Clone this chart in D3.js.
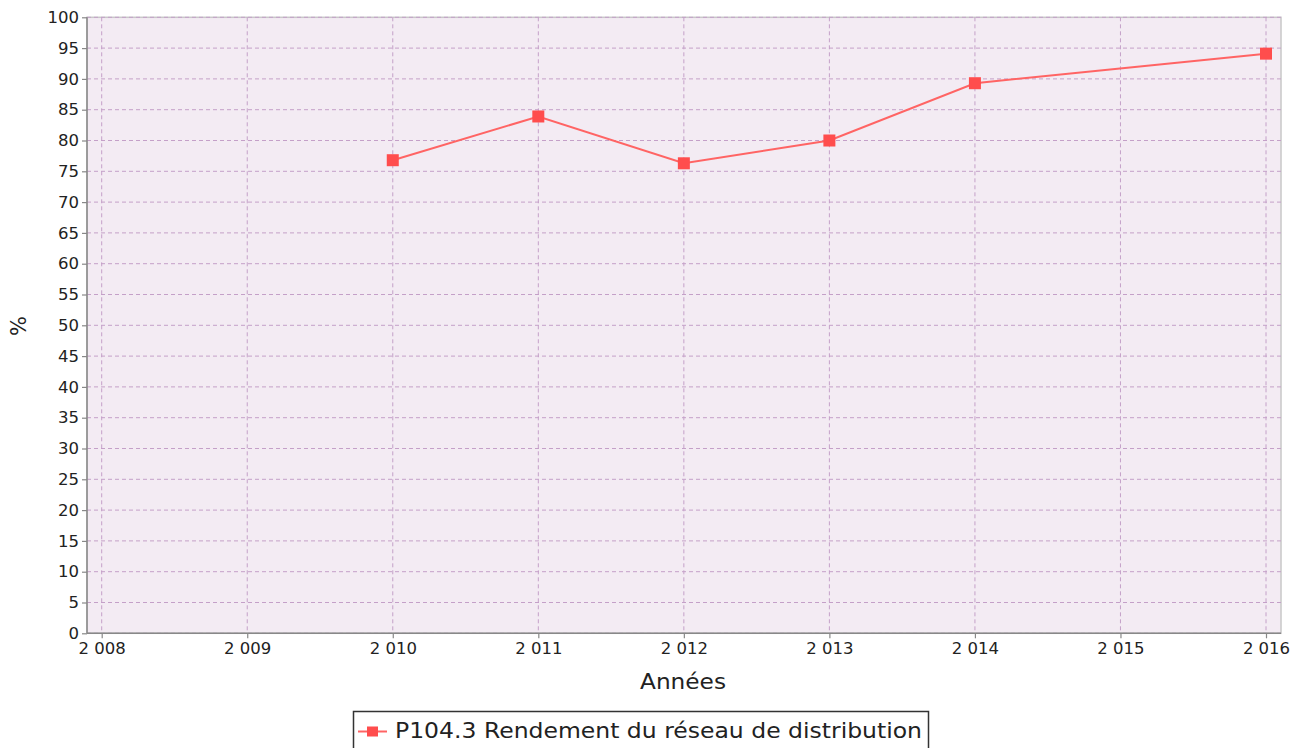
<!DOCTYPE html>
<html><head><meta charset="utf-8">
<script src="https://cdn.jsdelivr.net/npm/d3@7/dist/d3.min.js"></script>
<style>body{margin:0;background:#fff;}svg{display:block;font-family:"DejaVu Sans",sans-serif;}</style>
</head><body><svg id="c" width="1306" height="748"></svg>
<script>
const years = [2010, 2011, 2012, 2013, 2014, 2016];
const values = [76.8, 83.9, 76.3, 80.0, 89.3, 94.1];
const xTicks = [2008, 2009, 2010, 2011, 2012, 2013, 2014, 2015, 2016];
const yTicks = d3.range(0, 101, 5);
const seriesName = "P104.3 Rendement du réseau de distribution";
const xTitle = "Années";
const yTitle = "%";

const svg = d3.select("#c");
const L = 87, R = 1281, T = 17.3, B = 633.3;
const x = d3.scaleLinear().domain([2008, 2016]).range([101.7, 1266]);
const y = d3.scaleLinear().domain([0, 100]).range([B, T]);

svg.append("rect").attr("x", L).attr("y", T).attr("width", R - L).attr("height", B - T)
  .attr("fill", "#f3ebf3").attr("stroke", "#c8c8c8").attr("stroke-width", 1.5);

const grid = svg.append("g").attr("stroke", "#c4a0c8").attr("stroke-width", 1).attr("stroke-dasharray", "4,3");
yTicks.forEach(v => grid.append("line").attr("x1", L).attr("x2", R).attr("y1", y(v)).attr("y2", y(v)));
xTicks.forEach(v => grid.append("line").attr("x1", x(v)).attr("x2", x(v)).attr("y1", T).attr("y2", B));

const fmt = v => { const s = String(v); return s.length === 4 ? s[0] + " " + s.slice(1) : s; };

const ya = svg.append("g").attr("transform", `translate(${L},0)`)
  .call(d3.axisLeft(y).tickValues(yTicks).tickSize(5).tickPadding(3).tickFormat(d => d));
const xa = svg.append("g").attr("transform", `translate(0,${B})`)
  .call(d3.axisBottom(x).tickValues(xTicks).tickSize(5).tickPadding(4).tickFormat(fmt));
[ya, xa].forEach(a => {
  a.select(".domain").attr("stroke", "#888").attr("stroke-width", 1.5);
  a.selectAll(".tick line").attr("stroke", "#888").attr("stroke-width", 1.2);
  a.selectAll("text").attr("font-family", "DejaVu Sans").attr("font-size", 16.5).attr("fill", "#222");
});
xa.select(".domain").attr("d", `M${L},0H${R}`);
ya.select(".domain").attr("d", `M0,${B}V${T}`);

svg.append("text").attr("x", 640).attr("y", 689)
  .attr("font-size", 21.5).attr("fill", "#222")
  .attr("textLength", 86).attr("lengthAdjust", "spacingAndGlyphs").text(xTitle);
svg.append("text").attr("transform", "translate(26,326) rotate(-90)").attr("text-anchor", "middle")
  .attr("font-size", 21).attr("fill", "#222").text(yTitle);

const data = years.map((d, i) => ({ year: d, v: values[i] }));
svg.append("path").datum(data)
  .attr("fill", "none").attr("stroke", "#ff6464").attr("stroke-width", 2)
  .attr("d", d3.line().x(d => x(d.year)).y(d => y(d.v)));
svg.selectAll(".pt").data(data).enter().append("rect")
  .attr("x", d => x(d.year) - 6).attr("y", d => y(d.v) - 6)
  .attr("width", 12).attr("height", 12).attr("fill", "#ff4d4d");

const lg = svg.append("g");
lg.append("rect").attr("x", 353.5).attr("y", 711.5).attr("width", 575).attr("height", 50)
  .attr("fill", "#fff").attr("stroke", "#333").attr("stroke-width", 1.5);
lg.append("line").attr("x1", 358).attr("x2", 387).attr("y1", 731.5).attr("y2", 731.5)
  .attr("stroke", "#ff6464").attr("stroke-width", 2);
lg.append("rect").attr("x", 367).attr("y", 726.5).attr("width", 11).attr("height", 10).attr("fill", "#ff4d4d");
lg.append("text").attr("x", 395).attr("y", 738).attr("font-size", 21).attr("fill", "#222")
  .attr("textLength", 527).attr("lengthAdjust", "spacingAndGlyphs").text(seriesName);
</script></body></html>
